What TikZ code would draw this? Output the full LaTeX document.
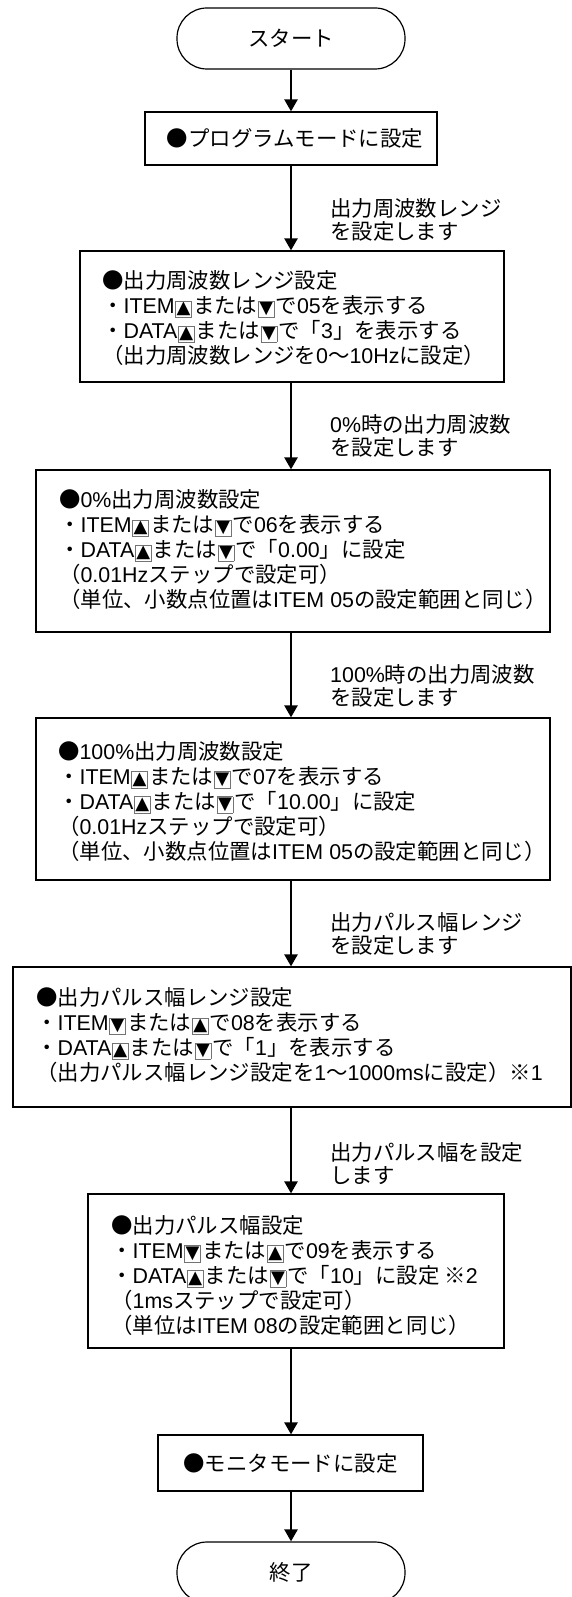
\documentclass[tikz,border=0pt]{standalone}
\usepackage{fontspec}
\setmainfont{Noto Sans CJK JP}
\newfontfamily\symfont{DejaVu Sans}
\newfontfamily\latfont{Liberation Sans}
\usetikzlibrary{arrows.meta}
\newcommand{\la}[1]{{\latfont #1}}
\newcommand{\keybox}[1]{\kern0.5pt{\setlength{\fboxsep}{0.9pt}\setlength{\fboxrule}{0.6pt}\fcolorbox{black!55}{white}{\symfont\fontsize{18}{18}\selectfont #1}}\kern1pt}
\newcommand{\upk}{\keybox{▲}}
\newcommand{\dnk}{\keybox{▼}}
\begin{document}
\begin{tikzpicture}[x=1pt,y=-1pt,
  txt/.style={inner sep=0pt, align=left, font=\fontsize{21.4}{25}\selectfont, anchor=west},
  lbl/.style={inner sep=0pt, align=left, font=\fontsize{21.4}{23}\selectfont, anchor=west},
  boxn/.style={draw, line width=1.2pt, inner sep=0pt, font=\fontsize{21.4}{25}\selectfont},
  term/.style={boxn, rounded corners=30pt, minimum width=228pt, minimum height=61pt},
  arr/.style={line width=2.4pt, -{Triangle[length=12pt,width=13pt]}}]
\useasboundingbox (0,0) rectangle (572,1597);
\coordinate (ax) at (291,0);

\node[term] (s1) at (291,38.5) {スタート};
\node[boxn, minimum width=292pt, minimum height=53pt] (b1) at (291,138.5) {\hspace*{8pt}●プログラムモードに設定};

\node[lbl] (l1) at (330,219.5) {出力周波数レンジ\\を設定します};

\node[boxn, minimum width=424pt, minimum height=131pt] (b2) at (292,316.5) {};
\node[txt] (t2) at (102,318.5) {●出力周波数レンジ設定\\・\la{ITEM}\upk または\dnk で\la{05}を表示する\\・\la{DATA}\upk または\dnk で「\la{3}」を表示する\\（出力周波数レンジを\la{0}〜\la{10Hz}に設定）};

\node[lbl] (l2) at (330,436) {\la{0\%}時の出力周波数\\を設定します};

\node[boxn, minimum width=514pt, minimum height=162pt] (b3) at (293,551) {};
\node[txt] (t3) at (59,550) {●\la{0\%}出力周波数設定\\・\la{ITEM}\upk または\dnk で\la{06}を表示する\\・\la{DATA}\upk または\dnk で「\la{0.00}」に設定\\（\la{0.01Hz}ステップで設定可）\\（単位、小数点位置は\la{ITEM 05}の設定範囲と同じ）};

\node[lbl] (l3) at (330,686) {\la{100\%}時の出力周波数\\を設定します};

\node[boxn, minimum width=514pt, minimum height=162pt] (b4) at (293,799) {};
\node[txt] (t4) at (58,801.5) {●\la{100\%}出力周波数設定\\・\la{ITEM}\upk または\dnk で\la{07}を表示する\\・\la{DATA}\upk または\dnk で「\la{10.00}」に設定\\（\la{0.01Hz}ステップで設定可）\\（単位、小数点位置は\la{ITEM 05}の設定範囲と同じ）};

\node[lbl] (l4) at (330,933.5) {出力パルス幅レンジ\\を設定します};

\node[boxn, minimum width=558pt, minimum height=140pt] (b5) at (292,1037) {};
\node[txt] (t5) at (36,1035.5) {●出力パルス幅レンジ設定\\・\la{ITEM}\dnk または\upk で\la{08}を表示する\\・\la{DATA}\upk または\dnk で「\la{1}」を表示する\\（出力パルス幅レンジ設定を\la{1}〜\la{1000ms}に設定）※\la{1}};

\node[lbl] (l5) at (330,1163.5) {出力パルス幅を設定\\します};

\node[boxn, minimum width=416pt, minimum height=154pt] (b6) at (296,1271) {};
\node[txt] (t6) at (111,1275.5) {●出力パルス幅設定\\・\la{ITEM}\dnk または\upk で\la{09}を表示する\\・\la{DATA}\upk または\dnk で「\la{10}」に設定 ※\la{2}\\（\la{1ms}ステップで設定可）\\（単位は\la{ITEM 08}の設定範囲と同じ）};

\node[boxn, minimum width=265pt, minimum height=56pt] (b7) at (290.5,1463) {●モニタモードに設定};
\node[term] (s2) at (291,1572.5) {終了};

\draw[arr] (ax |- s1.south) -- (ax |- b1.north);
\draw[arr] (ax |- b1.south) -- (ax |- b2.north);
\draw[arr] (ax |- b2.south) -- (ax |- b3.north);
\draw[arr] (ax |- b3.south) -- (ax |- b4.north);
\draw[arr] (ax |- b4.south) -- (ax |- b5.north);
\draw[arr] (ax |- b5.south) -- (ax |- b6.north);
\draw[arr] (ax |- b6.south) -- (ax |- b7.north);
\draw[arr] (ax |- b7.south) -- (ax |- s2.north);
\end{tikzpicture}
\end{document}
